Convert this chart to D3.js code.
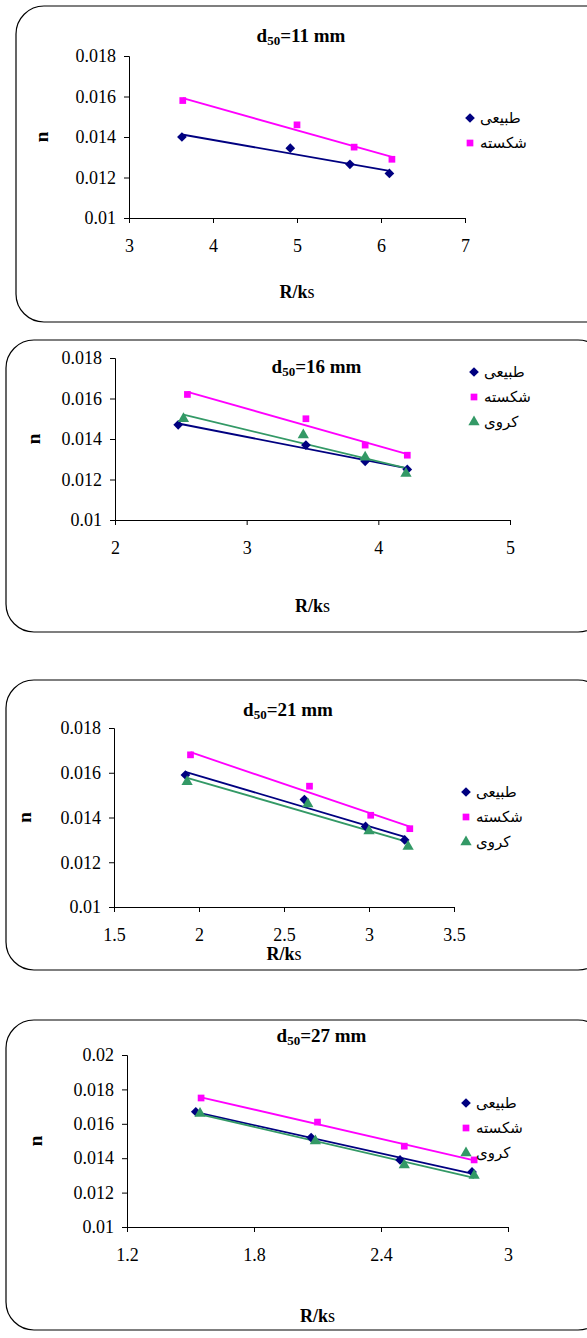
<!DOCTYPE html>
<html><head><meta charset="utf-8">
<script src="https://cdn.jsdelivr.net/npm/d3@7"></script>
<style>body{margin:0;background:#fff}svg{display:block}</style></head>
<body><svg id="c" width="587" height="1338"></svg>
<script>
const seriesNames = ["طبیعی","شکسته","کروی"];
const colors = ["#000080","#ff00ff","#339966"];
const trendColors = ["#000080","#ff00ff","#339966"];
const titles = ["11","16","21","27"];
const xTicks = [[3,4,5,6,7],[2,3,4,5],[1.5,2,2.5,3,3.5],[1.2,1.8,2.4,3]];
const yTicks = [[0.01,0.012,0.014,0.016,0.018],[0.01,0.012,0.014,0.016,0.018],[0.01,0.012,0.014,0.016,0.018],[0.01,0.012,0.014,0.016,0.018,0.02]];
const p1 = [
 [[3.63,0.0140],[4.92,0.01345],[5.63,0.01265],[6.1,0.0122]],
 [[3.64,0.0158],[5.0,0.0146],[5.68,0.0135],[6.13,0.0129]]];
const p2 = [
 [[2.48,0.0147],[3.45,0.0137],[3.9,0.0129],[4.22,0.0125]],
 [[2.55,0.0162],[3.45,0.0150],[3.9,0.0137],[4.22,0.0132]],
 [[2.52,0.0150],[3.43,0.0142],[3.9,0.0131],[4.21,0.0123]]];
const p3 = [
 [[1.92,0.0159],[2.62,0.0148],[2.98,0.0136],[3.21,0.0130]],
 [[1.95,0.0168],[2.65,0.0154],[3.01,0.0141],[3.24,0.0135]],
 [[1.93,0.0156],[2.64,0.0146],[3.0,0.0134],[3.23,0.0127]]];
const p4 = [
 [[1.525,0.0167],[2.07,0.0152],[2.49,0.0139],[2.83,0.0132]],
 [[1.55,0.0175],[2.10,0.0161],[2.51,0.0147],[2.84,0.0139]],
 [[1.545,0.0166],[2.09,0.0150],[2.51,0.0136],[2.84,0.0130]]];
const panelData = [p1,p2,p3,p4];

const layout = [
 {box:[16,6,600,316], x0:129,x1:465, yT:56,yB:218, titleY:42, xlabY:298, nX:48, legX:470, legY:118},
 {box:[6,340,600,292], x0:115,x1:510, yT:358,yB:520, titleY:373, xlabY:612, nX:40, legX:474, legY:372},
 {box:[6,680,600,290], x0:114,x1:454, yT:728,yB:907, titleY:716, xlabY:960, nX:31, legX:466, legY:792},
 {box:[6,1020,600,310], x0:127,x1:508, yT:1055,yB:1227, titleY:1042, xlabY:1322, nX:42, legX:466, legY:1103}];

const svg = d3.select("#c");
const font = "'Liberation Serif','Times New Roman',serif";

function linFit(pts){
  const n=pts.length; let sx=0,sy=0,sxx=0,sxy=0;
  pts.forEach(([x,y])=>{sx+=x;sy+=y;sxx+=x*x;sxy+=x*y;});
  const b=(n*sxy-sx*sy)/(n*sxx-sx*sx), a=(sy-b*sx)/n;
  return x=>a+b*x;
}
const diamond = d3.symbolDiamond2 || d3.symbolDiamond;

panelData.forEach((data,i)=>{
  const L = layout[i];
  const g = svg.append("g");
  const [bx,by,bw,bh]=L.box;
  g.append("rect").attr("x",bx).attr("y",by).attr("width",bw).attr("height",bh)
    .attr("rx",28).attr("fill","#fff").attr("stroke","#000").attr("stroke-width",1.2);
  const xt=xTicks[i], yt=yTicks[i];
  const x=d3.scaleLinear().domain([xt[0],xt[xt.length-1]]).range([L.x0,L.x1]);
  const y=d3.scaleLinear().domain([yt[0],yt[yt.length-1]]).range([L.yB,L.yT]);
  const xa=g.append("g").attr("transform",`translate(0,${L.yB})`)
    .call(d3.axisBottom(x).tickValues(xt).tickSize(5).tickPadding(16).tickFormat(d=>d));
  const ya=g.append("g").attr("transform",`translate(${L.x0},0)`)
    .call(d3.axisLeft(y).tickValues(yt).tickSize(5).tickPadding(8).tickFormat(d=>+d.toFixed(3)));
  [xa,ya].forEach(a=>{a.attr("font-family",null).attr("font-size",null);
    a.select(".domain").attr("stroke","#000");
    a.selectAll("text").style("font-family",font).style("font-size","18px").attr("fill","#000");});
  const t=g.append("text").attr("x",(L.x0+L.x1)/2+4).attr("y",L.titleY).attr("text-anchor","middle")
    .style("font-family",font).attr("font-weight","bold").attr("font-size",19);
  t.append("tspan").text("d");
  t.append("tspan").attr("font-size",13).attr("dy",3).text("50");
  t.append("tspan").attr("dy",-3).text(`=${titles[i]} mm`);
  const xl=g.append("text").attr("x",(L.x0+L.x1)/2).attr("y",L.xlabY).attr("text-anchor","middle")
    .style("font-family",font).attr("font-size",18);
  xl.append("tspan").attr("font-weight","bold").text("R/k");
  xl.append("tspan").text("s");
  g.append("text").attr("transform",`translate(${L.nX},${(L.yT+L.yB)/2}) rotate(-90)`)
    .attr("text-anchor","middle").style("font-family",font).attr("font-weight","bold").attr("font-size",19).text("n");
  data.forEach((pts,s)=>{
    const f=linFit(pts);
    const xs=d3.extent(pts,d=>d[0]);
    g.append("path").attr("d",d3.line().x(d=>x(d)).y(d=>y(f(d)))(xs))
      .attr("fill","none").attr("stroke",trendColors[s]).attr("stroke-width",1.8);
  });
  data.forEach((pts,s)=>{
    const sym=[diamond,d3.symbolSquare,d3.symbolTriangle][s];
    const size=[60,45,55][s];
    g.selectAll(null).data(pts).join("path")
      .attr("d",d3.symbol().type(sym).size(size))
      .attr("transform",d=>`translate(${x(d[0])},${y(d[1])})`)
      .attr("fill",colors[s]);
    const ly=L.legY+s*25;
    g.append("path").attr("d",d3.symbol().type(sym).size(size))
      .attr("transform",`translate(${L.legX},${ly})`).attr("fill",colors[s]);
    g.append("text").attr("x",L.legX+10).attr("y",ly+5).style("font-family","'DejaVu Sans',sans-serif")
      .attr("font-size",15).attr("text-anchor","start").text(seriesNames[s]);
  });
});
</script></body></html>
